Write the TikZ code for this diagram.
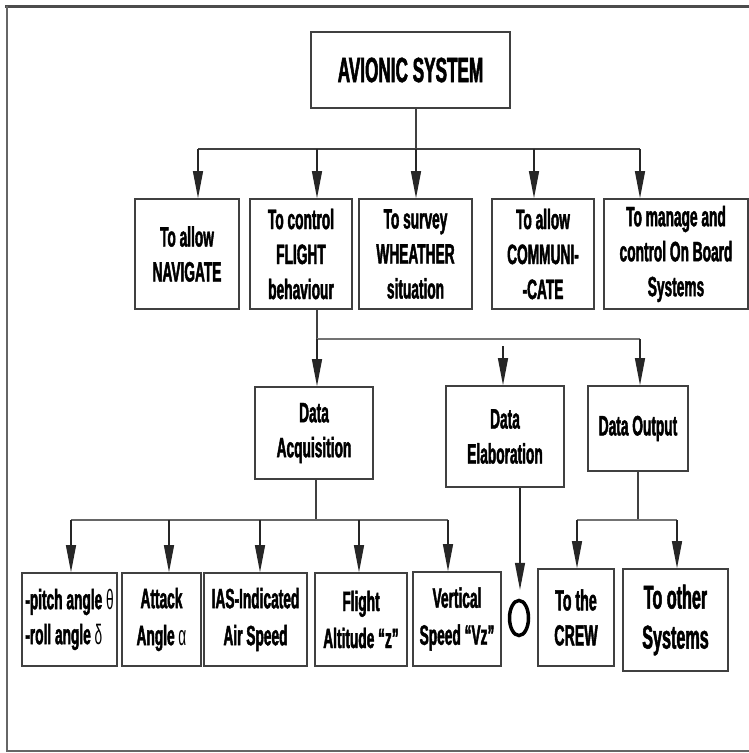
\documentclass[tikz,border=0pt]{standalone}
\usepackage{fontspec}
\setmainfont[FakeStretch=0.49, BoldFeatures={FakeBold=1.5}]{Liberation Sans}
\usetikzlibrary{arrows.meta,shapes.geometric}
\begin{document}
\begin{tikzpicture}[x=1pt,y=-1pt,
  box/.style={draw=black!75, line width=1.6pt, inner sep=0pt, align=center,
    font=\bfseries\fontsize{28}{35}\selectfont},
  arr/.style={-{Triangle[length=27pt,width=10pt]}, line width=1.3pt, draw=black!85},
  stem/.style={line width=1.3pt, draw=black!75},
  busA/.style={line width=2.8pt, draw=black!75},
  busB/.style={line width=2.8pt, draw=black!55},
  busC/.style={line width=2pt, draw=black!60},
]
\useasboundingbox (0,0) rectangle (749,753);
\fill[white] (0,0) rectangle (749,753);
% frame
\draw[line width=3pt, black!70] (5,6) -- (749,6);
\draw[line width=2pt, black!60] (7,6) -- (7,751) -- (749,751);

% top
\node[box, minimum width=199pt, minimum height=76pt,
  font=\bfseries\fontsize{35}{40}\selectfont] (av) at (410.5,70) {AVIONIC SYSTEM};

% level 2
\node[box, minimum width=104pt, minimum height=110pt] (nav) at (187,254) {To allow\\NAVIGATE};
\node[box, minimum width=102pt, minimum height=110pt] (fl) at (301,254) {To control\\FLIGHT\\behaviour};
\node[box, minimum width=113pt, minimum height=110pt] (we) at (415.5,254) {To survey\\WHEATHER\\situation};
\node[box, minimum width=102pt, minimum height=110pt] (co) at (543,254) {To allow\\COMMUNI-\\-CATE};
\node[box, minimum width=144pt, minimum height=110pt] (ma) at (676,254) {To manage and\\control On Board\\Systems};

\coordinate (s1) at (416,149);
\coordinate (b1) at (198,149);
\coordinate (b2) at (317,149);
\coordinate (b4) at (534,149);
\coordinate (b5) at (640,149);
\draw[stem] (s1 |- av.south) -- (s1);
\draw[busA] (b1) -- (b5);
\draw[arr] (b1) -- (b1 |- nav.north);
\draw[arr] (b2) -- (b2 |- fl.north);
\draw[arr] (s1) -- (s1 |- we.north);
\draw[arr] (b4) -- (b4 |- co.north);
\draw[arr] (b5) -- (b5 |- ma.north);

% level 3
\node[box, minimum width=118pt, minimum height=92pt] (da) at (314,433) {Data\\Acquisition};
\node[box, minimum width=118pt, minimum height=101pt] (de) at (505,436.5) {Data\\Elaboration};
\node[box, minimum width=100pt, minimum height=85pt] (do) at (638,428.5) {Data Output};

\coordinate (c1) at (317,339);
\coordinate (c2) at (503,346);
\coordinate (c3) at (640,339);
\draw[stem] (c1 |- fl.south) -- (c1);
\draw[busB] (c1) -- (c3);
\draw[arr] (c1) -- (c1 |- da.north);
\draw[arr] (c2) -- (c2 |- de.north);
\draw[arr] (c3) -- (c3 |- do.north);

% level 4
\node[box, minimum width=95pt, minimum height=93pt, align=left] (pi) at (69.5,619.5) {-pitch angle {\mdseries θ}\\-roll angle {\mdseries δ}};
\node[box, minimum width=79pt, minimum height=93pt, font=\bfseries\fontsize{28}{37}\selectfont] (at) at (161.5,619.5) {Attack\\Angle {\mdseries α}};
\node[box, minimum width=103pt, minimum height=93pt, font=\bfseries\fontsize{28}{37}\selectfont] (ia) at (255.5,619.5) {IAS-Indicated\\Air Speed};
\node[box, minimum width=92pt, minimum height=93pt, font=\bfseries\fontsize{28}{37}\selectfont] (al) at (361,619.5) {Flight\\Altitude “z”};
\node[box, minimum width=88pt, minimum height=94pt, font=\bfseries\fontsize{28}{37}\selectfont] (vz) at (457,619) {Vertical\\Speed “Vz”};
\node[box, minimum width=76pt, minimum height=97pt, font=\bfseries\fontsize{29}{35}\selectfont] (cr) at (576,617.5) {To the\\CREW};
\node[box, minimum width=105pt, minimum height=102pt, font=\bfseries\fontsize{33}{40}\selectfont] (ot) at (675.5,620) {To other\\Systems};
\node[draw=black, line width=3.5pt, ellipse, minimum width=19pt, minimum height=35pt, inner sep=0pt] (out) at (519,618) {};

\coordinate (dj) at (316,520);
\coordinate (d1) at (71,520);
\coordinate (d2) at (169,520);
\coordinate (d3) at (260,520);
\coordinate (d4) at (359,520);
\coordinate (d5) at (448,520);
\draw[stem] (dj |- da.south) -- (dj);
\draw[busC] (d1) -- (d5);
\draw[arr] (d1) -- (d1 |- pi.north);
\draw[arr] (d2) -- (d2 |- at.north);
\draw[arr] (d3) -- (d3 |- ia.north);
\draw[arr] (d4) -- (d4 |- al.north);
\draw[arr] (d5) -- (d5 |- vz.north);

\coordinate (ej) at (638,520);
\coordinate (e1) at (577,520);
\coordinate (e2) at (677,520);
\draw[stem] (ej |- do.south) -- (ej);
\draw[busB] (e1) -- (e2);
\draw[arr] (e1) -- (e1 |- cr.north);
\draw[arr] (e2) -- (e2 |- ot.north);

\coordinate (f0) at (520,487);
\draw[arr, shorten >=9pt] (f0 |- de.south) -- (f0 |- out.north);
\end{tikzpicture}
\end{document}
